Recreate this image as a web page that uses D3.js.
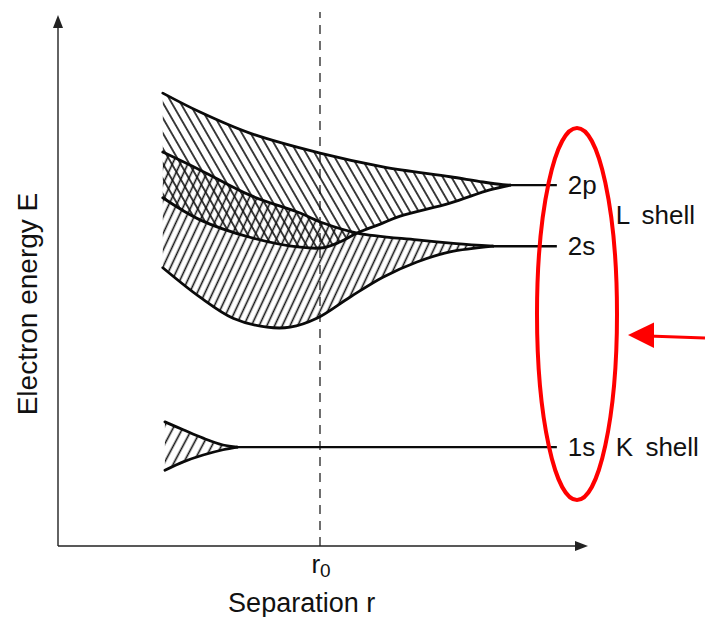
<!DOCTYPE html>
<html>
<head>
<meta charset="utf-8">
<script src="https://cdn.jsdelivr.net/npm/d3@7"></script>
<style>
    body { margin: 0; background: #fff; }
    text { font-family: "Liberation Sans", Arial, Helvetica, sans-serif; fill: #111; }
</style>
</head>
<body>
<div id="wrapper"></div>
<script>
// band edges as [r, E] pairs (arbitrary units, r0 = 5)
const band2p_upper = [[2.0, 8.61], [2.71, 8.25], [3.66, 7.85], [5.0, 7.47], [6.2, 7.21], [7.48, 7.02], [8.11, 6.92], [8.49, 6.87], [8.63, 6.86]];
const band2p_lower = [[2.0, 6.62], [2.71, 6.20], [3.66, 5.87], [4.62, 5.68], [5.06, 5.67], [5.38, 5.78], [5.71, 5.95], [6.15, 6.12], [6.53, 6.27], [7.48, 6.52], [8.24, 6.77], [8.63, 6.86]];
const band2s_upper = [[2.0, 7.49], [2.71, 7.15], [3.66, 6.67], [4.62, 6.33], [5.06, 6.14], [5.71, 5.95], [6.85, 5.82], [7.6, 5.75], [8.3, 5.70]];
const band2s_lower = [[2.0, 5.29], [2.71, 4.73], [3.34, 4.33], [3.99, 4.16], [4.43, 4.16], [4.94, 4.33], [5.57, 4.73], [6.2, 5.11], [6.85, 5.40], [7.48, 5.59], [8.3, 5.70]];
const band1s_upper = [[2.04, 2.36], [2.39, 2.21], [2.77, 2.05], [3.15, 1.92], [3.42, 1.88]];
const band1s_lower = [[2.04, 1.44], [2.39, 1.60], [2.77, 1.73], [3.15, 1.83], [3.42, 1.88]];

const level_names = ["2p", "2s", "1s"];
const level_E = [6.86, 5.70, 1.88];
const level_start_r = [8.63, 8.3, 3.42];
const level_end_r = 9.52;

const shell_names = ["L shell", "K shell"];
const shell_E = [6.29, 1.88];

const r0 = 5;

function drawChart() {
    let dimensions = {
        width: 705,
        height: 617,
        margin: {
            top: 20,
            right: 123,
            bottom: 71,
            left: 58
        }
    };
    dimensions.bounded_width = dimensions.width - dimensions.margin.left - dimensions.margin.right;
    dimensions.bounded_height = dimensions.height - dimensions.margin.top - dimensions.margin.bottom;

    const wrapper = d3.select("#wrapper")
        .append("svg")
        .attr("width", dimensions.width)
        .attr("height", dimensions.height);

    const defs = wrapper.append("defs");
    function addHatch(id, angle, spacing) {
        const pat = defs.append("pattern")
            .attr("id", id)
            .attr("patternUnits", "userSpaceOnUse")
            .attr("width", spacing)
            .attr("height", spacing)
            .attr("patternTransform", `rotate(${angle})`);
        pat.append("line")
            .attr("x1", spacing / 2).attr("y1", -1)
            .attr("x2", spacing / 2).attr("y2", spacing + 1)
            .attr("stroke", "#111")
            .attr("stroke-width", 1.6);
    }
    addHatch("hatch-back", -30, 7.6);   // "\\\\"
    addHatch("hatch-fwd", 25, 7.0);     // "////"
    addHatch("hatch-1s", 28, 8.5);

    const bounds = wrapper.append("g")
        .attr("transform", `translate(${dimensions.margin.left},${dimensions.margin.top})`);

    const x_scale = d3.scaleLinear()
        .domain([0, 10])
        .range([0, dimensions.bounded_width]);

    const y_scale = d3.scaleLinear()
        .domain([0, 10])
        .range([dimensions.bounded_height, 0]);

    const line_gen = d3.line()
        .x(d => x_scale(d[0]))
        .y(d => y_scale(d[1]))
        .curve(d3.curveCatmullRom.alpha(0.5));

    function bandPath(upper, lower) {
        const top = line_gen(upper);
        const bottom = line_gen(lower.slice().reverse());
        return top + "L" + bottom.slice(1) + "Z";
    }

    // dashed r0 line
    bounds.append("line")
        .attr("x1", x_scale(r0)).attr("x2", x_scale(r0))
        .attr("y1", y_scale(0)).attr("y2", -8)
        .attr("stroke", "#222")
        .attr("stroke-width", 1.3)
        .attr("stroke-dasharray", "9,7");

    // hatched bands
    const bands = [
        [band2p_upper, band2p_lower, "hatch-back"],
        [band2s_upper, band2s_lower, "hatch-fwd"],
        [band1s_upper, band1s_lower, "hatch-1s"]
    ];
    bands.forEach(b => {
        bounds.append("path")
            .attr("d", bandPath(b[0], b[1]))
            .attr("fill", `url(#${b[2]})`)
            .attr("stroke", "none");
    });

    // band edges
    [band2p_upper, band2p_lower, band2s_upper, band2s_lower, band1s_upper, band1s_lower].forEach(edge => {
        bounds.append("path")
            .attr("d", line_gen(edge))
            .attr("fill", "none")
            .attr("stroke", "#0a0a0a")
            .attr("stroke-width", 2.8)
            .attr("stroke-linecap", "round");
    });

    // levels at large separation
    level_names.forEach((name, i) => {
        bounds.append("line")
            .attr("x1", x_scale(level_start_r[i]))
            .attr("x2", x_scale(level_end_r))
            .attr("y1", y_scale(level_E[i]))
            .attr("y2", y_scale(level_E[i]))
            .attr("stroke", "#0a0a0a")
            .attr("stroke-width", 2.4);
        bounds.append("text")
            .attr("x", x_scale(level_end_r) + 11)
            .attr("y", y_scale(level_E[i]))
            .attr("dy", "0.35em")
            .style("font-size", "26px")
            .text(name);
    });

    shell_names.forEach((name, i) => {
        bounds.append("text")
            .attr("x", x_scale(level_end_r) + 59)
            .attr("y", y_scale(shell_E[i]))
            .attr("dy", "0.35em")
            .style("font-size", "26px")
            .style("word-spacing", "5px")
            .text(name);
    });

    // axes
    const axis_color = "#222";
    bounds.append("line")
        .attr("x1", 0).attr("x2", 0)
        .attr("y1", y_scale(0)).attr("y2", -2)
        .attr("stroke", axis_color).attr("stroke-width", 1.4);
    bounds.append("path")
        .attr("d", `M0,-5 L-5,8 L5,8 Z`)
        .attr("fill", axis_color);
    bounds.append("line")
        .attr("x1", 0).attr("x2", dimensions.bounded_width - 2)
        .attr("y1", y_scale(0)).attr("y2", y_scale(0))
        .attr("stroke", axis_color).attr("stroke-width", 1.4);
    bounds.append("path")
        .attr("d", `M${dimensions.bounded_width + 6},${y_scale(0)} l-13,-5 l0,10 Z`)
        .attr("fill", axis_color);

    // axis labels
    const r0_label = bounds.append("text")
        .attr("x", x_scale(r0) + 1)
        .attr("y", y_scale(0) + 27)
        .attr("text-anchor", "middle")
        .style("font-size", "26px")
        .text("r");
    r0_label.append("tspan")
        .attr("dy", 4)
        .style("font-size", "19px")
        .text("0");

    bounds.append("text")
        .attr("x", x_scale(4.65))
        .attr("y", y_scale(0) + 66)
        .attr("text-anchor", "middle")
        .style("font-size", "27px")
        .text("Separation r");

    bounds.append("text")
        .attr("transform", `translate(${-21},${y_scale(4.6)}) rotate(-90)`)
        .attr("text-anchor", "middle")
        .style("font-size", "28px")
        .text("Electron energy E");

    // red highlight annotation
    const red = "#ff0000";
    wrapper.append("ellipse")
        .attr("cx", 577).attr("cy", 314)
        .attr("rx", 40).attr("ry", 186)
        .attr("fill", "none")
        .attr("stroke", red)
        .attr("stroke-width", 4);
    wrapper.append("line")
        .attr("x1", 705).attr("y1", 338)
        .attr("x2", 648).attr("y2", 336)
        .attr("stroke", red)
        .attr("stroke-width", 3);
    wrapper.append("path")
        .attr("d", "M628,335 L654,322.5 L654,348 Z")
        .attr("fill", red);
}

drawChart();
</script>
</body>
</html>
